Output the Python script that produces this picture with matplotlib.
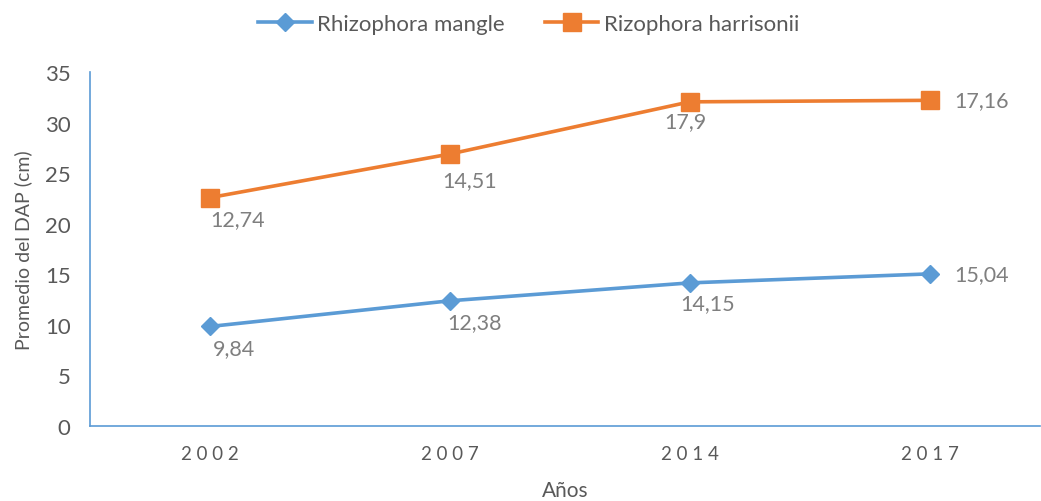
import matplotlib
matplotlib.use('Agg')
import matplotlib.pyplot as plt
import numpy as np

# Datos (promedio del DAP por año)
anios = ['2002', '2007', '2014', '2017']
mangle = [9.84, 12.38, 14.15, 15.04]
harrisonii = [12.74, 14.51, 17.9, 17.16]
etiquetas_mangle = ['9,84', '12,38', '14,15', '15,04']
etiquetas_harrisonii = ['12,74', '14,51', '17,9', '17,16']

azul = '#5B9BD5'
naranja = '#ED7D31'
gris_texto = '#595959'
gris_etiqueta = '#7F7F7F'

plt.rcParams['font.family'] = ['Lato', 'DejaVu Sans']

fig = plt.figure(figsize=(10.41, 5.02), dpi=100)
ax = fig.add_axes([90 / 1041, 75 / 502, 950 / 1041, 354 / 502])

x = np.arange(len(anios))
# Líneas apiladas: la segunda serie se suma a la primera
apilada = np.array(mangle) + np.array(harrisonii)

ax.plot(x, mangle, color=azul, lw=2.6, marker='D', ms=9, label='Rhizophora mangle')
ax.plot(x, apilada, color=naranja, lw=2.6, marker='s', ms=12.5, label='Rizophora harrisonii')

# Desplazamientos de las etiquetas (pixeles)
off_mangle = [(3, -22), (-3, -21), (-9, -20), (25, 0)]
off_harr = [(0, -21), (-8, -26), (-25, -19), (25, 0)]
for i in range(len(x)):
    ax.annotate(etiquetas_mangle[i], (x[i], mangle[i]), xytext=off_mangle[i],
                textcoords='offset pixels', ha='left', va='center',
                fontsize=15.5, color=gris_etiqueta)
    ax.annotate(etiquetas_harrisonii[i], (x[i], apilada[i]), xytext=off_harr[i],
                textcoords='offset pixels', ha='left', va='center',
                fontsize=15.5, color=gris_etiqueta)

ax.set_xlim(-0.5, 3.46)
ax.set_ylim(0, 35)
ax.set_yticks(range(0, 36, 5))
ax.set_xticks(x)
ax.set_xticklabels([' '.join(a) for a in anios])
ax.tick_params(length=0, colors=gris_texto)
ax.tick_params(axis='x', pad=14, labelsize=13.5)
ax.tick_params(axis='y', pad=14, labelsize=16)

for lado in ['top', 'right']:
    ax.spines[lado].set_visible(False)
for lado in ['left', 'bottom']:
    ax.spines[lado].set_color(azul)
    ax.spines[lado].set_linewidth(1.2)

ax.set_ylabel('Promedio del DAP (cm)', fontsize=14, color=gris_texto, labelpad=9)
ax.set_xlabel('Años', fontsize=15, color=gris_texto, labelpad=13)

fig.legend(loc='upper center', bbox_to_anchor=(0.508, 1.01), ncol=2, frameon=False,
           fontsize=16, labelcolor=gris_texto, handlelength=2.4, columnspacing=1.8,
           handletextpad=0.25)

plt.savefig('out.png', dpi=100)
